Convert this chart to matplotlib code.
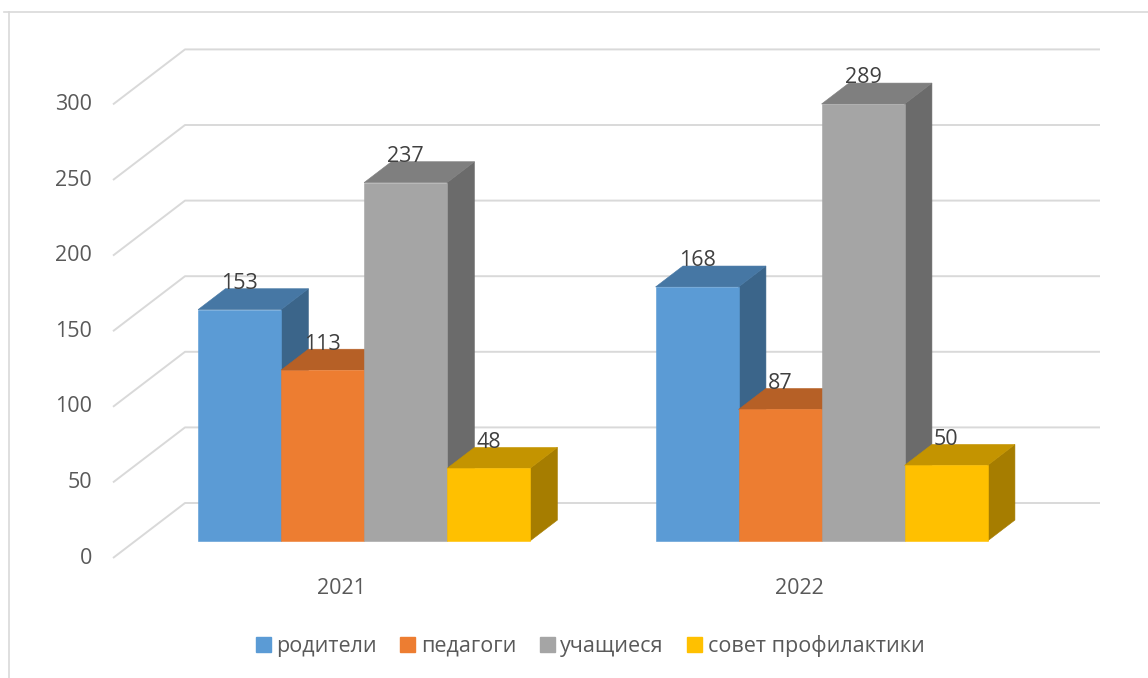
#!/usr/bin/env python3
# 3D-style clustered columns (Excel look) drawn with plain polygons

import matplotlib
matplotlib.use('Agg')
import matplotlib.pyplot as plt
from matplotlib.patches import Polygon, Patch
from matplotlib.lines import Line2D
from matplotlib.colors import to_rgb

# ---- data ----
categories = ['2021', '2022']
series_names = ['родители', 'педагоги', 'учащиеся', 'совет профилактики']
parents = [153, 168]
teachers = [113, 87]
students = [237, 289]
prevention = [48, 50]
series_values = [parents, teachers, students, prevention]
y_ticks = [0, 50, 100, 150, 200, 250, 300]

colors = ['#5b9bd5', '#ed7d31', '#a5a5a5', '#ffc000']

plt.rcParams['font.family'] = ['Open Sans', 'DejaVu Sans']
FS = 15.5

W, H, DPI = 1148, 678, 100
fig = plt.figure(figsize=(W / DPI, H / DPI), dpi=DPI)
ax = fig.add_axes([0, 0, 1, 1])
ax.set_axis_off()

# pixel mapping: back wall x 0..2 -> 185..1100 px, value 0 -> 503 px, 50 -> 75.6 px
px_x = 457.5
px_y = 1.512
ax.set_xlim(-185 / px_x, (W - 185) / px_x)
ax.set_ylim((503 - H) / px_y, 503 / px_y)

# oblique depth offset (full floor depth) in data units
DX = 72 / px_x
DY = 55 / px_y
f_front, f_back = 0.69, 0.31   # bar faces as fraction of depth from back wall
bar_w = 83 / px_x


def proj(x, v, f):
    return (x - DX * f, v - DY * f)


def shade(c, k):
    r, g, b = to_rgb(c)
    return (r * k, g * k, b * k)


grid_c = '#d9d9d9'
tick_c = '#595959'

# gridlines: diagonal on the side wall, then along the back wall
for v in y_ticks:
    xs = [proj(0, v, 1)[0], 0, 2]
    ys = [proj(0, v, 1)[1], v, v]
    ax.plot(xs, ys, color=grid_c, lw=1.4, zorder=1, solid_capstyle='butt')
    tx, ty = proj(0, v, 1)
    ax.text(tx - 21 / px_x, ty, str(v), ha='right', va='center',
            fontsize=FS, color=tick_c)

z = 2
for c, cat in enumerate(categories):
    for i, vals in enumerate(series_values):
        v = vals[c]
        x0 = c + 0.5 - 2 * bar_w + i * bar_w
        x1 = x0 + bar_w
        col = colors[i]
        front = [proj(x0, 0, f_front), proj(x1, 0, f_front),
                 proj(x1, v, f_front), proj(x0, v, f_front)]
        top = [proj(x0, v, f_front), proj(x1, v, f_front),
               proj(x1, v, f_back), proj(x0, v, f_back)]
        side = [proj(x1, 0, f_front), proj(x1, 0, f_back),
                proj(x1, v, f_back), proj(x1, v, f_front)]
        for pts, k in ((side, 0.65), (top, 0.77), (front, 1.0)):
            fc = shade(col, k)
            ax.add_patch(Polygon(pts, closed=True, facecolor=fc,
                                 edgecolor=fc, lw=0.4, zorder=z))
        z += 1
        lx = (x0 + x1) / 2 - DX * f_front
        ly = v - DY * f_front + 26 / px_y
        ax.text(lx, ly, str(v), ha='center', va='center', fontsize=FS,
                color='#404040', zorder=100)

    cx, _ = proj(c + 0.5, 0, 1)
    ax.text(cx, (503 - 589) / px_y, cat, ha='center', va='center',
            fontsize=FS, color=tick_c)

# chart area border
fig.add_artist(Line2D([4 / W, 1], [1 - 12 / H, 1 - 12 / H],
                      color=grid_c, lw=1.2, transform=fig.transFigure))
fig.add_artist(Line2D([9 / W, 9 / W], [0, 1 - 12 / H],
                      color=grid_c, lw=1.2, transform=fig.transFigure))

handles = [Patch(facecolor=col, edgecolor=col) for col in colors]
fig.legend(handles, series_names, loc='center', bbox_to_anchor=(0.514, 1 - 646 / H),
           ncol=4, frameon=False, fontsize=FS, labelcolor=tick_c,
           handlelength=0.7, handleheight=0.7, handletextpad=0.25,
           columnspacing=1.1, borderaxespad=0)

fig.savefig('out.png', dpi=DPI)
